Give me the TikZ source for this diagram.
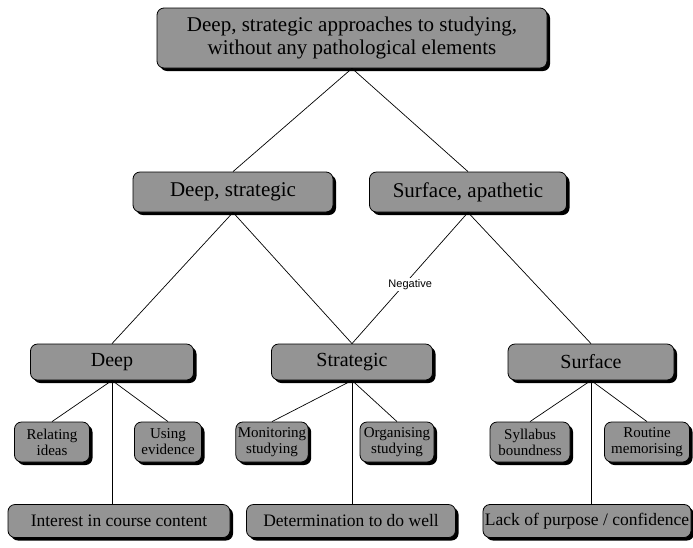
\documentclass[tikz,border=0pt]{standalone}
\usepackage{fontspec}
\setmainfont{Liberation Serif}
\newfontfamily\labelfont{Liberation Sans}
\usepackage{tikz}
\usetikzlibrary{positioning}
\usetikzlibrary{shadows}
\tikzstyle{basebox} = [rectangle, rounded corners=7pt, draw=black, line width=0.8pt, fill=black!42, text centered, align=center, inner sep=2pt, drop shadow={shadow xshift=3pt, shadow yshift=-3pt, fill=black, opacity=1}]
\tikzstyle{bigbox} = [basebox, font=\fontsize{21}{23}\selectfont]
\tikzstyle{itembox} = [basebox, font=\fontsize{15}{16}\selectfont, minimum height=40pt]
\tikzstyle{widebox} = [basebox, font=\fontsize{17.5}{20}\selectfont, minimum height=33pt]
\tikzstyle{link} = [line width=0.7pt]
\tikzstyle{neglabel} = [fill=white, inner sep=1pt, font=\labelfont\fontsize{11}{12}\selectfont]

\begin{document}
\begin{tikzpicture}[x=1pt, y=-1pt]
\useasboundingbox (0,0) rectangle (693,547);
% top
\node (Top) [bigbox, minimum width=390pt, minimum height=60pt] at (352,38) {Deep, strategic approaches to studying,\\without any pathological elements};
% second row
\node (DS) [bigbox, minimum width=200pt, minimum height=40pt] at (233,192) {Deep, strategic};
\node (SA) [bigbox, minimum width=197pt, minimum height=40pt] at (468,192) {Surface, apathetic};
% third row
\node (D) [bigbox, font=\fontsize{20}{22}\selectfont, minimum width=163pt, minimum height=36pt] at (112,362) {Deep};
\node (St) [bigbox, font=\fontsize{20}{22}\selectfont, minimum width=161pt, minimum height=36pt] at (352,362) {Strategic};
\node (Su) [bigbox, font=\fontsize{20}{22}\selectfont, minimum width=166pt, minimum height=36pt] at (591,362) {Surface};
% fourth row
\node (D1) [itembox, minimum width=75pt] at (52,442) {Relating\\ideas};
\node (D2) [itembox, minimum width=67pt] at (168,442) {Using\\evidence};
\node (St1) [itembox, minimum width=72pt] at (272,442) {Monitoring\\studying};
\node (St2) [itembox, minimum width=74pt] at (397,442) {Organising\\studying};
\node (Su1) [itembox, minimum width=80pt] at (530,442) {Syllabus\\boundness};
\node (Su2) [itembox, minimum width=85pt] at (647,442) {Routine\\memorising};
% bottom row
\node (D3) [widebox, minimum width=222pt] at (119,521) {Interest in course content};
\node (St3) [widebox, minimum width=209pt] at (351,521) {Determination to do well};
\node (Su3) [widebox, minimum width=205pt] at (587,521) {Lack of purpose / confidence};
% links
\draw [link] (Top.south) -- (DS.north);
\draw [link] (Top.south) -- (SA.north);
\draw [link] (DS.south) -- (D.north);
\draw [link] (DS.south) -- (St.north);
\draw [link] (SA.south) -- (Su.north);
\draw [link] (SA.south) -- (St.north) node[neglabel, pos=0.55, xshift=6pt] {Negative};
\draw [link] (D.south) -- (D1.north);
\draw [link] (D.south) -- (D2.north);
\draw [link] (D.south) -- (D.south |- D3.north);
\draw [link] (St.south) -- (St1.north);
\draw [link] (St.south) -- (St2.north);
\draw [link] (St.south) -- (St.south |- St3.north);
\draw [link] (Su.south) -- (Su1.north);
\draw [link] (Su.south) -- (Su2.north);
\draw [link] (Su.south) -- (Su.south |- Su3.north);
\end{tikzpicture}
\end{document}
